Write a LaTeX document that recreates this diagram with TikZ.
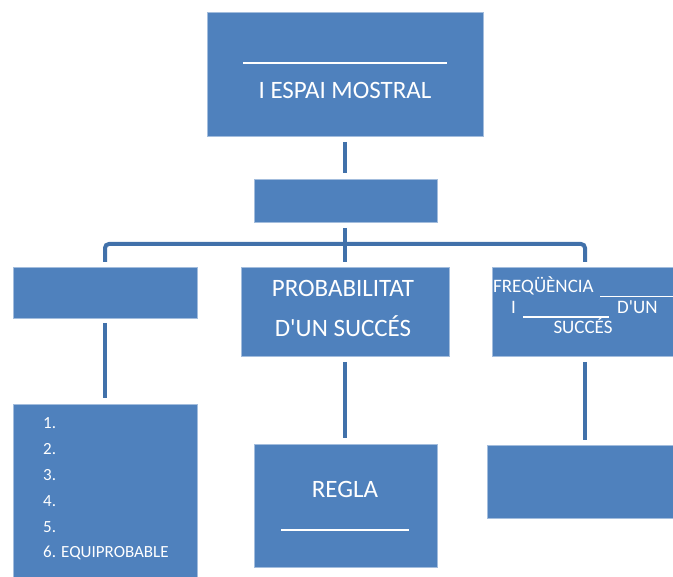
\documentclass[tikz,border=0pt]{standalone}
\usepackage{fontspec}
\setmainfont{Carlito}
\definecolor{boxblue}{HTML}{4F81BD}
\definecolor{boxedge}{HTML}{A3BDDD}
\definecolor{connblue}{HTML}{4171AA}
\tikzset{
  box/.style={rectangle, fill=boxblue, draw=boxedge, line width=0.8pt, inner sep=0pt, outer sep=0pt, anchor=north west},
  conn/.style={draw=connblue, line width=4pt},
  blank/.style={draw=white, line width=1.3pt},
  bigtxt/.style={text=white, font=\fontsize{25}{28}\selectfont, inner sep=0pt, anchor=base},
  midtxt/.style={text=white, font=\fontsize{19}{21}\selectfont, inner sep=0pt},
  listtxt/.style={text=white, font=\fontsize{17}{19}\selectfont, inner sep=0pt, anchor=base west}
}
\begin{document}
\begin{tikzpicture}[x=1pt,y=-1pt]
\useasboundingbox (0,0) rectangle (673,577);
% boxes
\node[box, minimum width=276pt, minimum height=124pt] (top) at (207,12) {};
\node[box, minimum width=183pt, minimum height=43pt] (b2) at (254,179) {};
\node[box, minimum width=184pt, minimum height=51pt] (lb) at (13,267) {};
\node[box, minimum width=208pt, minimum height=89pt] (mb) at (241,267) {};
\node[box, minimum width=186pt, minimum height=89pt] (rb) at (492,267) {};
\node[box, minimum width=184pt, minimum height=190pt] (lbb) at (13,404) {};
\node[box, minimum width=183pt, minimum height=123pt] (mbb) at (254,444) {};
\node[box, minimum width=194pt, minimum height=73pt] (rbb) at (487,445) {};
% connectors
\coordinate (bus) at (345,244);
\draw[conn] ([yshift=-6pt]top.south) -- ([yshift=6pt]top.south |- b2.north);
\draw[conn] ([yshift=-6pt]top.south |- b2.south) -- ([yshift=5pt]top.south |- mb.north);
\draw[conn, rounded corners=4pt] ([yshift=5pt]lb.north) |- (bus) -| ([yshift=5pt]rb.north);
\draw[conn] ([yshift=-5pt]lb.south) -- ([yshift=6pt]lb.south |- lbb.north);
\draw[conn] ([yshift=-6pt]top.south |- mb.south) -- ([yshift=6pt]top.south |- mbb.north);
\draw[conn] ([yshift=-6pt]rb.south) -- ([yshift=5pt]rb.south |- rbb.north);
% top box text
\draw[blank] (243,63) -- (447,63);
\node[bigtxt] (t1) at (345,99) {I ESPAI MOSTRAL};
% middle box text
\node[bigtxt] (p1) at (343,297) {PROBABILITAT};
\node[bigtxt] (p2) at (343,337) {D\textquotesingle UN SUCCÉS};
% right box text
\node[midtxt, anchor=base west] (f1) at (493,293) {FREQÜÈNCIA};
\draw[blank] (600,296.5) -- (690,296.5);
\node[midtxt, anchor=base west] (f2) at (511,314) {I};
\draw[blank] (523,317) -- (609,317);
\node[midtxt, anchor=base west] (f3) at (617,314) {D\textquotesingle UN};
\node[midtxt, anchor=base] (f4) at (583,334) {SUCCÉS};
% list
\node[listtxt] (l1) at (43,429) {1.};
\node[listtxt] (l2) at (43,455) {2.};
\node[listtxt] (l3) at (43,481) {3.};
\node[listtxt] (l4) at (43,507) {4.};
\node[listtxt] (l5) at (43,533) {5.};
\node[listtxt] (l6) at (43,558) {6. EQUIPROBABLE};
% regla
\node[bigtxt] (r1) at (345,498) {REGLA};
\draw[blank] (281,530) -- (409,530);
\end{tikzpicture}
\end{document}
